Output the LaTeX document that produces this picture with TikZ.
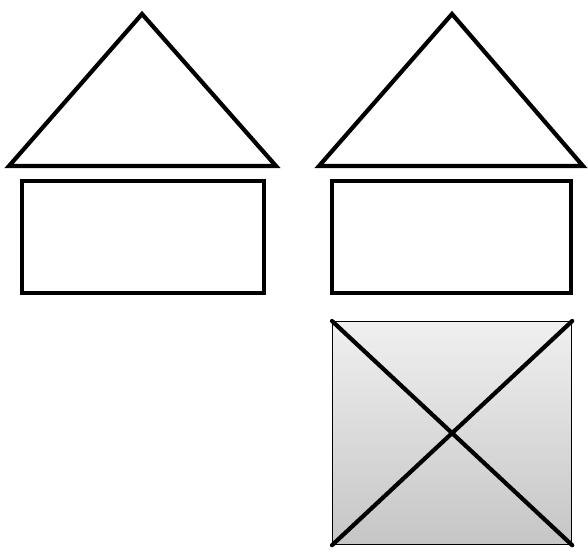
\documentclass[tikz,border=0pt]{standalone}
\begin{document}
\begin{tikzpicture}[x=1pt,y=-1pt,
  thickline/.style={line width=4.2pt, line join=miter, black},
  crossline/.style={line width=4.2pt, line cap=round, black},
  roofshape/.style={thickline},
  wallbox/.style={thickline},
  shadedbox/.style={draw=black, line width=1.2pt, top color=gray!12, bottom color=gray!45}]
\useasboundingbox (0,0) rectangle (588,551);
% left house
\draw[roofshape] (142,14) -- (276,166) -- (9,166) -- cycle;
\draw[wallbox] (22,181) rectangle (264,293);
% right house
\draw[roofshape] (452,14) -- (583,166) -- (319,166) -- cycle;
\draw[wallbox] (332,181) rectangle (571,293);
% crossed box
\node[shadedbox, minimum width=239pt, minimum height=223pt, inner sep=0pt, anchor=north west] (box) at (332,321) {};
\draw[crossline] (box.north west) -- (box.south east);
\draw[crossline] (box.north east) -- (box.south west);
\end{tikzpicture}
\end{document}
